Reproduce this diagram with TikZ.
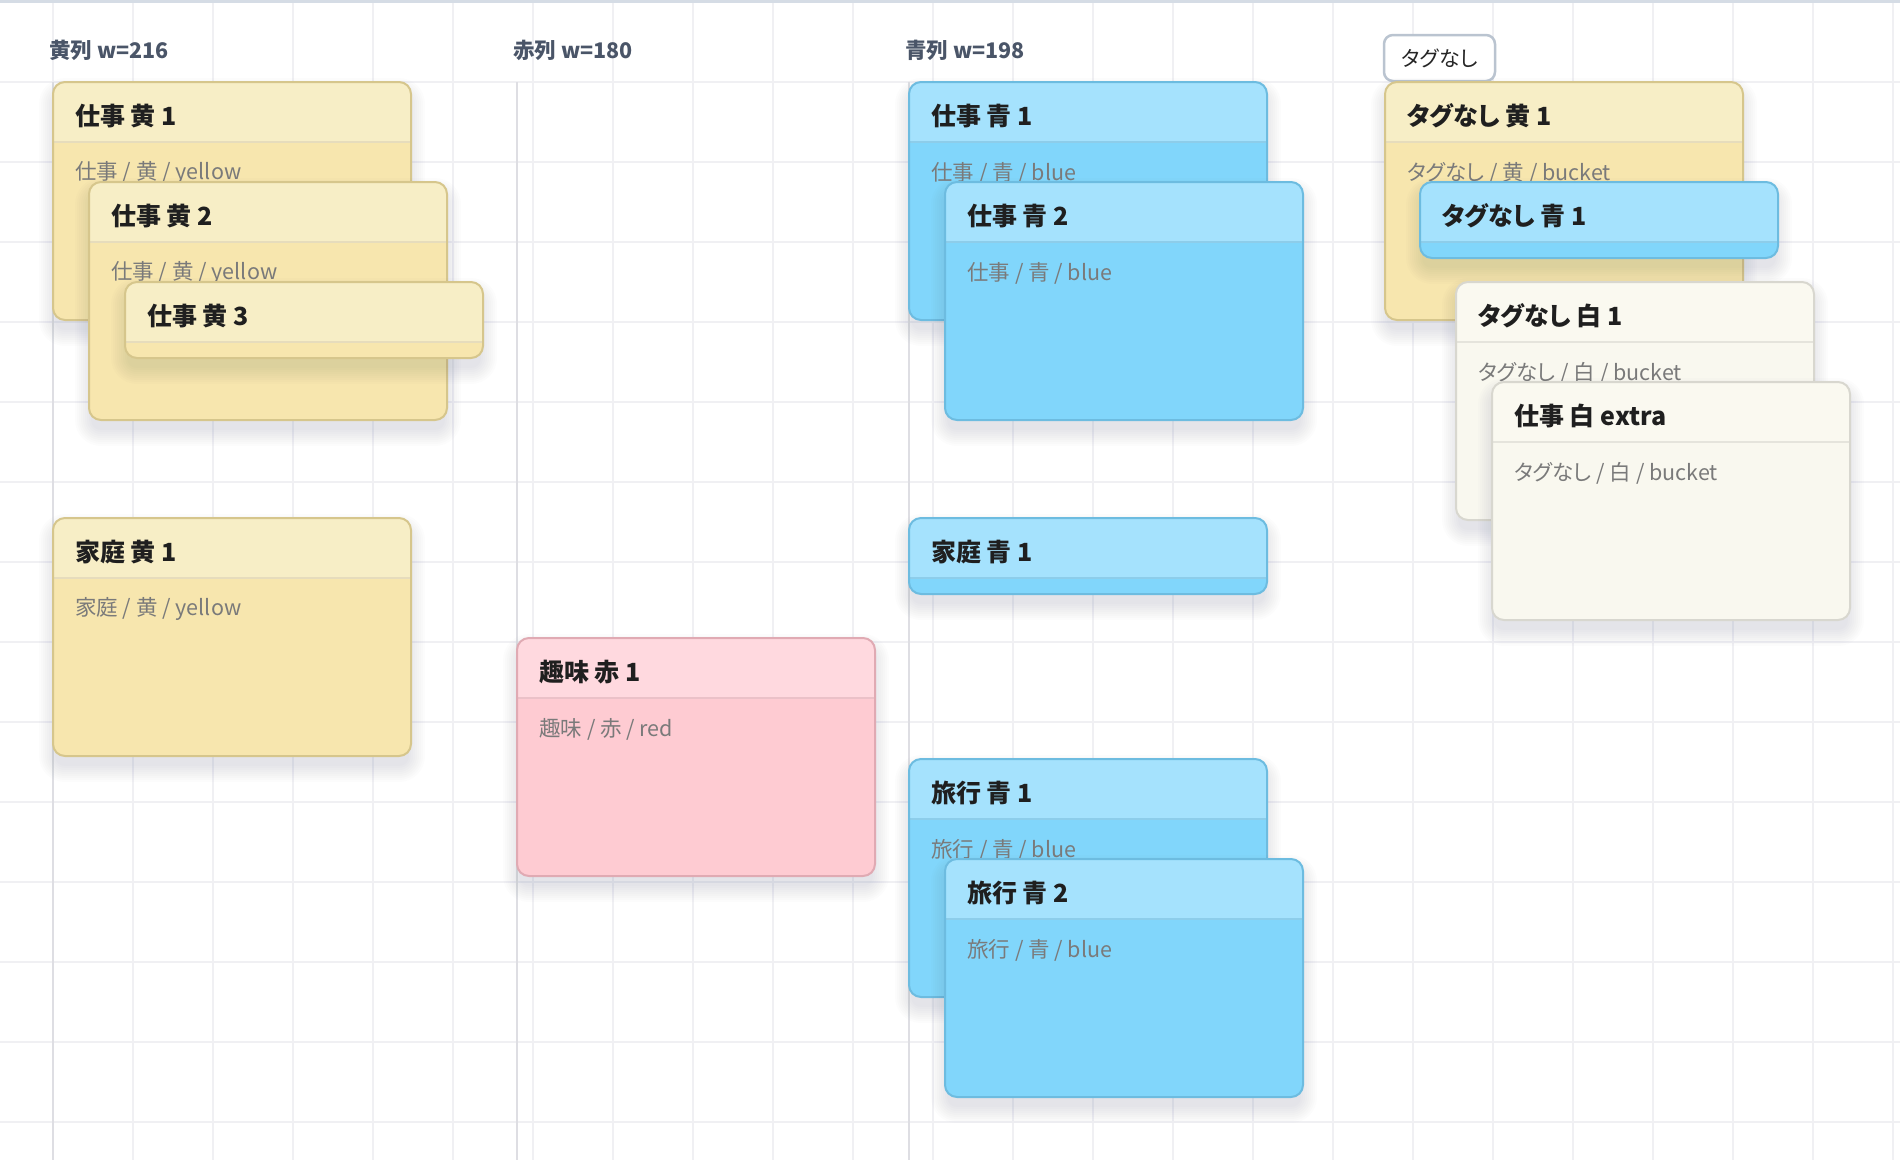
\documentclass[tikz,border=0pt]{standalone}
\usepackage{xcolor}
\usepackage{tikz}
\usepackage{fontspec}
\setmainfont{Noto Sans CJK JP}[RawFeature={+palt}]

\definecolor{kiHead}{HTML}{F7EEC6}
\definecolor{kiBody}{HTML}{F7E6AE}
\definecolor{kiEdge}{HTML}{D6C68C}
\definecolor{kiLine}{HTML}{E6DCBC}
\definecolor{aoHead}{HTML}{A5E2FD}
\definecolor{aoBody}{HTML}{81D6FB}
\definecolor{aoEdge}{HTML}{6DBCE0}
\definecolor{aoLine}{HTML}{8DCDEA}
\definecolor{akaHead}{HTML}{FFD9DF}
\definecolor{akaBody}{HTML}{FECBD2}
\definecolor{akaEdge}{HTML}{E0AAB3}
\definecolor{akaLine}{HTML}{EBC1C8}
\definecolor{shiroHead}{HTML}{FAF9F0}
\definecolor{shiroBody}{HTML}{F9F8EF}
\definecolor{shiroEdge}{HTML}{D8D7CF}
\definecolor{shiroLine}{HTML}{E5E4DC}
\definecolor{gridgray}{HTML}{F0F0F3}
\definecolor{colgray}{HTML}{DEDEE3}
\definecolor{slate}{HTML}{4A5568}
\definecolor{topline}{HTML}{D5DCE5}
\definecolor{tagedge}{HTML}{BAC4D0}
\definecolor{shadowtone}{HTML}{30354A}

% card: name, colour prefix, x, y, height, title, body
\newcommand\kcard[7]{%
  \begin{scope}[shift={(#3,#4)}]
    % soft shadow, built up from thin layers
    \foreach \k in {0,2,...,16}
      \fill[shadowtone, opacity=0.011, rounded corners=26-\k]
        (-14+\k,-4+\k) rectangle (372-\k,#5+26-\k);
    \fill[#2Body, rounded corners=12] (0,0) rectangle (358,#5);
    \begin{scope}
      \clip[rounded corners=12] (0,0) rectangle (358,#5);
      \fill[#2Head] (0,0) rectangle (358,60);
      \draw[#2Line, line width=2] (0,60) -- (358,60);
    \end{scope}
    \draw[#2Edge, line width=2, rounded corners=12] (0,0) rectangle (358,#5);
    \node[cardtitle] (#1) at (22,34) {#6};
    \if\relax\detokenize{#7}\relax\else
      \node[cardbody] (#1-txt) at (22,91) {#7};
    \fi
  \end{scope}}

\begin{document}
\begin{tikzpicture}[
  x=1pt, y=-1pt,
  cardtitle/.style={anchor=west, inner sep=0pt, font=\fontsize{25}{25}\selectfont\bfseries, text=black!88},
  cardbody/.style={anchor=west, inner sep=0pt, font=\fontsize{21.5}{21.5}\selectfont, text=black!52},
  colhead/.style={anchor=west, inner sep=0pt, font=\fontsize{21.5}{21.5}\selectfont\bfseries, text=slate}
]
\useasboundingbox (0,0) rectangle (1900,1160);
\fill[white] (0,0) rectangle (1900,1160);

% grid
\foreach \gx in {53,133,...,1893} \draw[gridgray, line width=2] (\gx,0) -- (\gx,1160);
\foreach \gy in {82,162,...,1122} \draw[gridgray, line width=2] (0,\gy) -- (1900,\gy);
\draw[topline, line width=3] (0,1.5) -- (1900,1.5);

% column rules
\foreach \cx in {53,517,909} \draw[colgray, line width=2] (\cx,82) -- (\cx,1160);

% column headers
\node[colhead] (hdki) at (49,50) {黄列 w=216};
\node[colhead] (hdaka) at (513,50) {赤列 w=180};
\node[colhead] (hdao) at (905,50) {青列 w=198};
\node[draw=tagedge, line width=2.5, fill=white, rounded corners=9,
  minimum width=111, minimum height=46, inner sep=0pt,
  font=\fontsize{21}{21}\selectfont, text=black!85] (notag) at (1439.5,58) {タグなし};

% yellow column
\kcard{sk1}{ki}{53}{82}{238}{仕事 黄 1}{仕事 / 黄 / yellow}
\kcard{sk2}{ki}{89}{182}{238}{仕事 黄 2}{仕事 / 黄 / yellow}
\kcard{sk3}{ki}{125}{282}{76}{仕事 黄 3}{}
\kcard{kk1}{ki}{53}{518}{238}{家庭 黄 1}{家庭 / 黄 / yellow}
% red column
\kcard{ha1}{aka}{517}{638}{238}{趣味 赤 1}{趣味 / 赤 / red}
% blue column
\kcard{sa1}{ao}{909}{82}{238}{仕事 青 1}{仕事 / 青 / blue}
\kcard{sa2}{ao}{945}{182}{238}{仕事 青 2}{仕事 / 青 / blue}
\kcard{ka1}{ao}{909}{518}{76}{家庭 青 1}{}
\kcard{ra1}{ao}{909}{759}{238}{旅行 青 1}{旅行 / 青 / blue}
\kcard{ra2}{ao}{945}{859}{238}{旅行 青 2}{旅行 / 青 / blue}
% untagged
\kcard{tk1}{ki}{1385}{82}{238}{タグなし 黄 1}{タグなし / 黄 / bucket}
\kcard{ta1}{ao}{1420}{182}{76}{タグなし 青 1}{}
\kcard{ts1}{shiro}{1456}{282}{238}{タグなし 白 1}{タグなし / 白 / bucket}
\kcard{ss1}{shiro}{1492}{382}{238}{仕事 白 extra}{タグなし / 白 / bucket}
\end{tikzpicture}
\end{document}
